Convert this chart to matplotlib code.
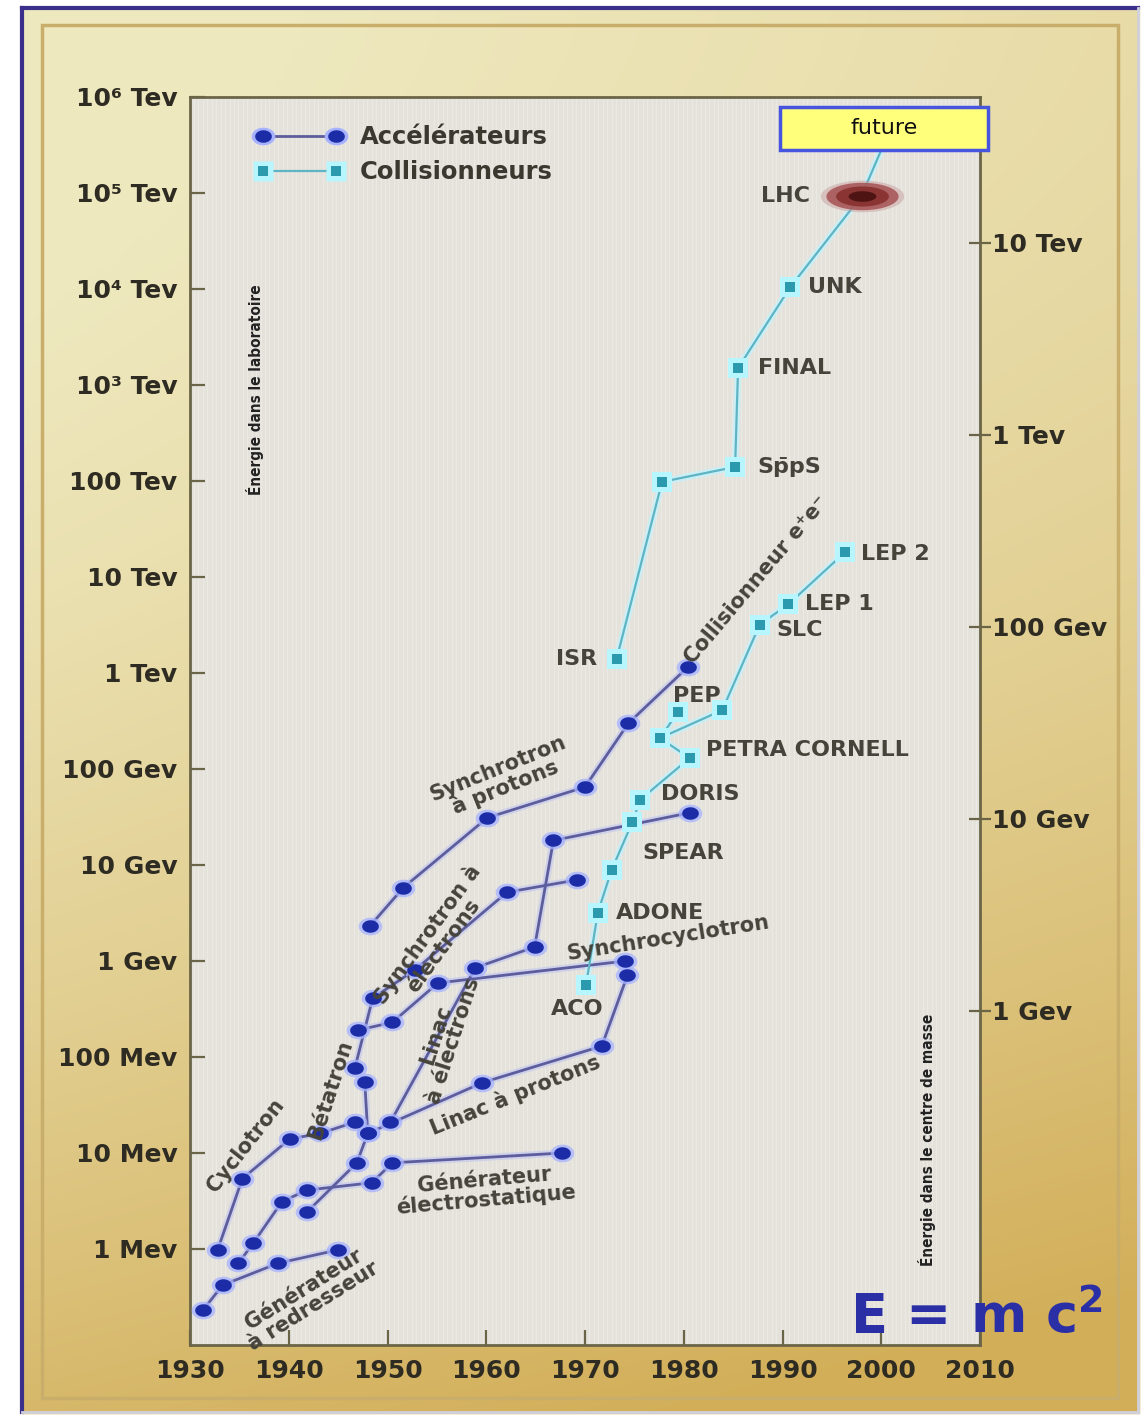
import numpy as np
import matplotlib.pyplot as plt
from matplotlib.path import Path
from matplotlib.patches import Rectangle
from matplotlib.lines import Line2D

plt.rcParams['font.family'] = ['DejaVu Sans']
plt.rcParams['font.weight'] = 'bold'

# ---- data : year, energy in the laboratory (eV) ----
# accelerators
rect_years = [1931.3, 1933.3, 1938.9, 1945.0]
rect_ev = [2.3e5, 4.2e5, 7.1e5, 9.8e5]
elec_years = [1934.9, 1936.4, 1939.3, 1941.8, 1948.4, 1950.5, 1967.7]
elec_ev = [7.1e5, 1.15e6, 3.1e6, 4.1e6, 4.9e6, 7.9e6, 1.0e7]
cyc_years = [1932.8, 1935.3, 1940.1, 1943.2, 1946.7]
cyc_ev = [9.8e5, 5.4e6, 1.4e7, 1.6e7, 2.1e7]
beta_years = [1941.8, 1946.9, 1948.0, 1947.7]
beta_ev = [2.4e6, 7.9e6, 1.6e7, 5.5e7]
esync_years = [1946.7, 1948.5, 1952.8, 1962.1, 1969.2]
esync_ev = [7.7e7, 4.1e8, 8.1e8, 5.2e9, 7.0e9]
sccyc_years = [1947.0, 1950.5, 1955.1, 1974.1]
sccyc_ev = [1.9e8, 2.3e8, 5.9e8, 1.0e9]
linp_years = [1948.0, 1959.6, 1971.7, 1974.3]
linp_ev = [1.6e7, 5.4e7, 1.3e8, 7.1e8]
line_years = [1950.3, 1958.9, 1964.9, 1966.8, 1980.6]
line_ev = [2.1e7, 8.5e8, 1.4e9, 1.8e10, 3.5e10]
psync_years = [1948.2, 1951.6, 1960.1, 1970.0, 1974.4, 1980.4]
psync_ev = [2.3e9, 5.8e9, 3.1e10, 6.5e10, 3.0e11, 1.15e12]

# colliders (equivalent lab energy)
ee_names = ['ACO', 'ADONE', '', 'SPEAR', 'DORIS', 'PETRA CORNELL', '', '', 'SLC', 'LEP 1', 'LEP 2']
ee_years = [1970.1, 1971.3, 1972.7, 1974.8, 1975.6, 1980.6, 1977.6, 1983.9, 1987.7, 1990.6, 1996.3]
ee_ev = [5.6e8, 3.2e9, 8.9e9, 2.8e10, 4.8e10, 1.3e11, 2.1e11, 4.1e11, 3.2e12, 5.2e12, 1.8e13]
pep_years = [1977.6, 1979.4]
pep_ev = [2.1e11, 3.9e11]
had_names = ['ISR', '', 'Sp\u0304pS', 'FINAL', 'UNK', 'LHC', '']
had_years = [1973.2, 1977.8, 1985.2, 1985.5, 1990.8, 1998.0, 2000.4]
had_ev = [1.4e12, 9.8e13, 1.4e14, 1.5e15, 1.05e16, 9.3e16, 3.5e17]

left_ticks = [1e6, 1e7, 1e8, 1e9, 1e10, 1e11, 1e12, 1e13, 1e14, 1e15, 1e16, 1e17, 1e18]
left_labels = ['1 Mev', '10 Mev', '100 Mev', '1 Gev', '10 Gev', '100 Gev', '1 Tev',
               '10 Tev', '100 Tev', '10\u00b3 Tev', '10\u2074 Tev', '10\u2075 Tev', '10\u2076 Tev']
right_ticks = [1e9, 1e10, 1e11, 1e12, 1e13]
right_labels = ['1 Gev', '10 Gev', '100 Gev', '1 Tev', '10 Tev']
year_ticks = [1930, 1940, 1950, 1960, 1970, 1980, 1990, 2000, 2010]

W, H = 1146, 1416
fig = plt.figure(figsize=(W / 100, H / 100), dpi=100)

# ---- golden background frame ----
bg = fig.add_axes([0, 0, 1, 1], zorder=-5)
yy, xx = np.mgrid[0:H:2, 0:W:2].astype(np.float32)
t = np.clip((yy / H) ** 1.7 * 0.9 + 0.3 * (xx / W) - 0.08, 0, 1)
c0 = np.array([238, 232, 190], dtype=np.float32) / 255
c1 = np.array([210, 174, 88], dtype=np.float32) / 255
img = c0 + (c1 - c0) * t[..., None]
outside = (xx < 22) | (yy < 8) | (xx > 1138) | (yy > 1412)
img[outside] = 1.0
bg.imshow(img, extent=[0, W, H, 0], aspect='auto', interpolation='bilinear')
bg.plot([22, 22], [8, 1412], color='#3a2f8a', lw=3)
bg.plot([22, 1138], [8, 8], color='#3a2f8a', lw=3)
bg.plot([1138, 1138], [8, 1412], color='#cfd0dc', lw=2)
bg.plot([22, 1138], [1412, 1412], color='#cfd0dc', lw=2)
bg.add_patch(Rectangle((42, 25), 1076, 1373, fill=False, ec='#c8ae6a', lw=2.5))
bg.set_xlim(0, W)
bg.set_ylim(H, 0)
bg.axis('off')

# ---- main axes ----
ax = fig.add_axes([190 / W, 1 - 1345 / H, 790 / W, 1248 / H])
ax.set_facecolor('#e5e2dc')
ax.set_yscale('log')
ax.set_xlim(1930, 2010)
ax.set_ylim(1e5, 1e18)

spine_c = '#6b6548'
lab_c = '#2e2b22'
for s in ax.spines.values():
    s.set_color(spine_c)
    s.set_linewidth(2)

ax.set_yticks(left_ticks)
ax.set_yticklabels(left_labels)
ax.yaxis.set_minor_locator(plt.NullLocator())
ax.set_xticks(year_ticks)
ax.tick_params(direction='in', length=11, width=1.6, color=spine_c,
               labelsize=18, labelcolor=lab_c, pad=9)
ax.tick_params(axis='x', pad=10)

ax2 = ax.twinx()
ax2.set_yscale('log')
ax2.set_ylim(10 ** 7.26, 10 ** 13.76)
ax2.set_yticks(right_ticks)
ax2.set_yticklabels(right_labels)
ax2.yaxis.set_minor_locator(plt.NullLocator())
ax2.tick_params(direction='inout', length=16, width=1.6, color=spine_c,
                labelsize=18, labelcolor=lab_c, pad=1)
for s in ax2.spines.values():
    s.set_visible(False)

# faint paper stripes
for xs in np.arange(1930.4, 2010, 0.45):
    ax.axvline(xs, color='white', lw=0.8, alpha=0.25, zorder=0)

ell = Path(np.column_stack([np.cos(np.linspace(0, 2 * np.pi, 40)),
                            0.75 * np.sin(np.linspace(0, 2 * np.pi, 40))]), closed=True)
lhc_shape = Path(np.column_stack([np.cos(np.linspace(0, 2 * np.pi, 60)),
                                  0.38 * np.sin(np.linspace(0, 2 * np.pi, 60))]), closed=True)


def acc(years, ev):
    ax.plot(years, ev, color='#b8c0f4', lw=5, alpha=0.5, zorder=2)
    ax.plot(years, ev, color='#5d5d9d', lw=2, zorder=3)
    ax.plot(years, ev, ls='none', marker=ell, ms=17, color='#a6b2ff', alpha=0.75, mew=0, zorder=4)
    ax.plot(years, ev, ls='none', marker=ell, ms=12, color='#1c2ca6', mew=0, zorder=5)


def col(years, ev, marks=None):
    ax.plot(years, ev, color='#bff4ff', lw=5, alpha=0.7, zorder=2)
    ax.plot(years, ev, color='#5fb4c4', lw=1.6, zorder=3)
    ax.plot(years, ev, ls='none', marker='s', ms=14, color='#b8f6ff', mew=0, markevery=marks, zorder=4)
    ax.plot(years, ev, ls='none', marker='s', ms=7.5, color='#2b9aae', mew=0, markevery=marks, zorder=5)


for ys, es in [(rect_years, rect_ev), (elec_years, elec_ev), (cyc_years, cyc_ev),
               (beta_years, beta_ev), (esync_years, esync_ev), (sccyc_years, sccyc_ev),
               (linp_years, linp_ev), (line_years, line_ev), (psync_years, psync_ev)]:
    acc(ys, es)

col(ee_years, ee_ev)
col(pep_years, pep_ev)
col(had_years, had_ev, marks=[0, 1, 2, 3, 4])

# LHC blob
for ms, c, a in [(60, '#c8a0a0', 0.5), (52, '#a85858', 0.9), (38, '#8a3434', 1), (20, '#4e1414', 1)]:
    ax.plot([had_years[5]], [had_ev[5]], ls='none', marker=lhc_shape, ms=ms, color=c,
            alpha=a, mew=0, zorder=6)

# future box
ax.add_patch(Rectangle((1989.7, 10 ** 17.45), 21.1, 10 ** 17.9 - 10 ** 17.45,
                       fc='#ffff7c', ec='#4654e0', lw=2.5, clip_on=False, zorder=10))
ax.text(2000.3, 10 ** 17.68, 'future', ha='center', va='center', fontsize=16,
        weight='normal', color='#111111', zorder=11)

# point names
txt_c = '#45433a'
ee_off = {'ACO': (-6, -17, 'center'), 'ADONE': (13, 0, 'left'), 'SPEAR': (7, -22, 'left'),
          'DORIS': (15, 4, 'left'), 'PETRA CORNELL': (12, 6, 'left'), 'SLC': (12, -4, 'left'),
          'LEP 1': (12, 0, 'left'), 'LEP 2': (12, -1, 'left')}
for n, x, y in zip(ee_names, ee_years, ee_ev):
    if n:
        dx, dy, ha = ee_off[n]
        ax.annotate(n, (x, y), xytext=(dx, dy), textcoords='offset points', ha=ha,
                    va='center', fontsize=16, color=txt_c, zorder=7)
ax.annotate('PEP', (pep_years[1], pep_ev[1]), xytext=(14, 12), textcoords='offset points',
            ha='center', va='center', fontsize=16, color=txt_c, zorder=7)
had_off = {'ISR': (-14, 0, 'right'), 'Sp\u0304pS': (16, 0, 'left'), 'FINAL': (14, 0, 'left'),
           'UNK': (13, 0, 'left'), 'LHC': (-37, 0, 'right')}
for n, x, y in zip(had_names, had_years, had_ev):
    if n:
        dx, dy, ha = had_off[n]
        ax.annotate(n, (x, y), xytext=(dx, dy), textcoords='offset points', ha=ha,
                    va='center', fontsize=16, color=txt_c, zorder=7)

# family labels
fam = [('Cyclotron', 1935.6, 1.2e7, 52),
       ('B\u00e9tatron', 1944.2, 4.6e7, 72),
       ('G\u00e9n\u00e9rateur\n\u00e0 redresseur', 1942.0, 3.1e5, 32),
       ('G\u00e9n\u00e9rateur\n\u00e9lectrostatique', 1959.9, 4.1e6, 5),
       ('Linac \u00e0 protons', 1962.9, 4.0e7, 22),
       ('Linac\n\u00e0 \u00e9lectrons', 1955.8, 1.6e8, 72),
       ('Synchrotron \u00e0\n\u00e9lectrons', 1954.8, 1.66e9, 54),
       ('Synchrocyclotron', 1978.4, 1.74e9, 9),
       ('Synchrotron\n\u00e0 protons', 1961.6, 8.1e10, 22),
       ('Collisionneur e\u207ae\u207b', 1987.4, 9.3e12, 50)]
for s, x, y, r in fam:
    ax.text(x, y, s, rotation=r, ha='center', va='center', fontsize=15, color=txt_c,
            linespacing=0.95, rotation_mode='anchor', zorder=7)

ax.text(1936.6, 8.9e14, '\u00c9nergie dans le laboratoire', rotation=90, ha='center',
        va='center', fontsize=11, color='#222', fontstretch='condensed')
ax.text(2004.6, 1.37e7, '\u00c9nergie dans le centre de masse', rotation=90, ha='center',
        va='center', fontsize=11, color='#222', fontstretch='condensed')

# legend
h_acc = (Line2D([], [], color='#5d5d9d', lw=2, marker=ell, ms=17, mfc='#a6b2ff', mec='none'),
         Line2D([], [], ls='none', marker=ell, ms=12, color='#1c2ca6', mew=0))
h_col = (Line2D([], [], color='#5fb4c4', lw=1.6, marker='s', ms=14, mfc='#b8f6ff', mec='none'),
         Line2D([], [], ls='none', marker='s', ms=7.5, color='#2b9aae', mew=0))
leg = ax.legend([h_acc, h_col], ['Acc\u00e9l\u00e9rateurs', 'Collisionneurs'], loc='upper left',
                bbox_to_anchor=(0.055, 0.995), frameon=False, numpoints=2, handlelength=3.6,
                handletextpad=0.7, labelspacing=0.45, fontsize=17.5)
for tx in leg.get_texts():
    tx.set_color('#3a382f')

fig.text(850 / W, 1 - 1333 / H, r'E = m c$^{\mathbf{2}}$', fontsize=39, color='#2b2fa5',
         weight='bold', va='baseline', ha='left')

fig.savefig('out.png', dpi=100)
